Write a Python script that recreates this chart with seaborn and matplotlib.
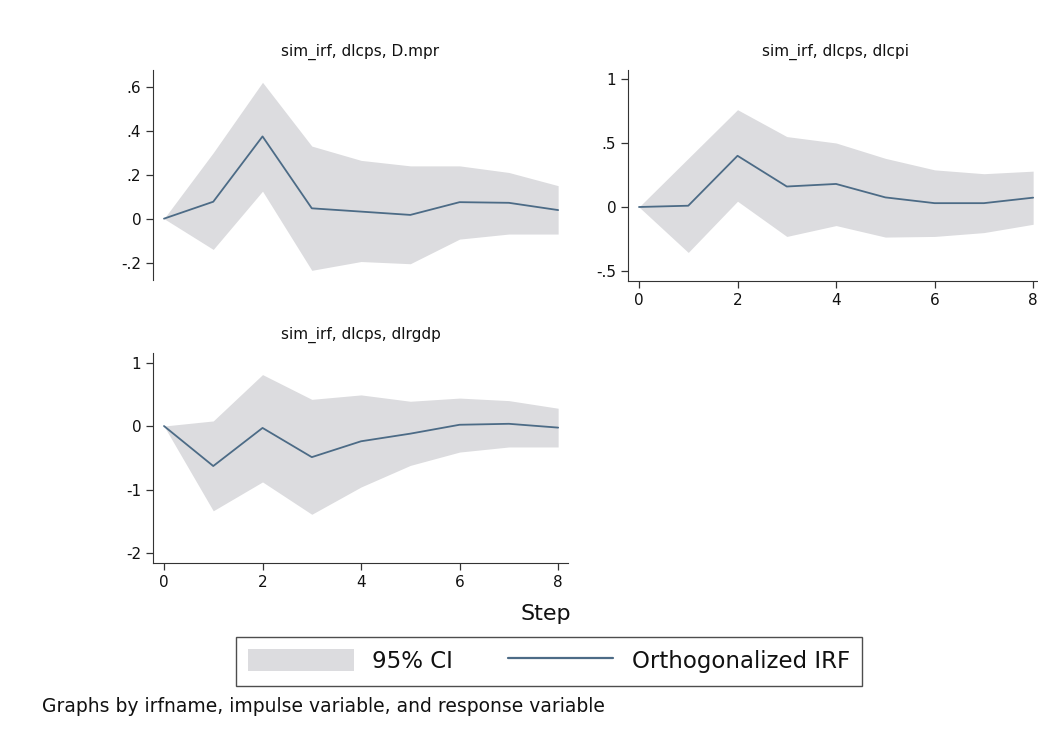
# IRF-Diagramm nachbauen (drei Panels, gemeinsame Legende)
import numpy as np
import pandas as pd
import seaborn as sns
import matplotlib.pyplot as plt
from matplotlib.patches import Patch
from matplotlib.lines import Line2D

# Daten
steps = [0, 1, 2, 3, 4, 5, 6, 7, 8]

mpr_irf = [0, 0.077, 0.374, 0.047, 0.032, 0.017, 0.075, 0.072, 0.039]
mpr_lo = [0, -0.14, 0.125, -0.235, -0.195, -0.205, -0.093, -0.07, -0.07]
mpr_hi = [0, 0.30, 0.62, 0.33, 0.265, 0.24, 0.24, 0.21, 0.15]

cpi_irf = [0, 0.01, 0.40, 0.16, 0.18, 0.075, 0.03, 0.03, 0.073]
cpi_lo = [0, -0.355, 0.045, -0.23, -0.145, -0.235, -0.23, -0.20, -0.135]
cpi_hi = [0, 0.38, 0.76, 0.55, 0.50, 0.38, 0.29, 0.26, 0.28]

gdp_irf = [0, -0.63, -0.03, -0.49, -0.24, -0.12, 0.02, 0.035, -0.025]
gdp_lo = [0, -1.335, -0.88, -1.39, -0.96, -0.62, -0.41, -0.33, -0.33]
gdp_hi = [0, 0.08, 0.81, 0.42, 0.49, 0.39, 0.44, 0.40, 0.28]

titles = ["sim_irf, dlcps, D.mpr", "sim_irf, dlcps, dlcpi", "sim_irf, dlcps, dlrgdp"]
yticks = [[-0.2, 0, 0.2, 0.4, 0.6], [-0.5, 0, 0.5, 1], [-2, -1, 0, 1]]
yticklabels = [["-.2", "0", ".2", ".4", ".6"], ["-.5", "0", ".5", "1"], ["-2", "-1", "0", "1"]]
ylims = [(-0.279, 0.676), (-0.578, 1.07), (-2.157, 1.15)]

ci_farbe = "#dcdcdf"
linie_farbe = "#4c6b86"

sns.set_style("ticks")
plt.rcParams['font.family'] = ['DejaVu Sans']

fig = plt.figure(figsize=(10.38, 7.44), dpi=100)
W, H = 1038, 744
# Positionen der Panels in Pixeln (links, oben, rechts, unten)
boxen = [(153, 70, 568, 280), (628, 70, 1043, 281), (153, 353, 568, 563)]
daten = [(mpr_irf, mpr_lo, mpr_hi), (cpi_irf, cpi_lo, cpi_hi), (gdp_irf, gdp_lo, gdp_hi)]

for i, (b, (irf, lo, hi)) in enumerate(zip(boxen, daten)):
    ax = fig.add_axes([b[0] / W, 1 - b[3] / H, (b[2] - b[0]) / W, (b[3] - b[1]) / H])
    df = pd.DataFrame({"Step": steps, "irf": irf, "lo": lo, "hi": hi})
    ax.fill_between(df["Step"], df["lo"], df["hi"], color=ci_farbe, linewidth=0)
    sns.lineplot(data=df, x="Step", y="irf", ax=ax, color=linie_farbe, linewidth=1.3)
    ax.set_xlim(-0.223, 8.2)
    ax.set_ylim(*ylims[i])
    ax.set_yticks(yticks[i])
    ax.set_yticklabels(yticklabels[i])
    ax.set_xticks([0, 2, 4, 6, 8])
    ax.set_xlabel("")
    ax.set_ylabel("")
    ax.set_title(titles[i], fontsize=11, pad=10, color="#111111")
    for s in ["top", "right"]:
        ax.spines[s].set_visible(False)
    ax.spines["left"].set_color("#333333")
    ax.spines["bottom"].set_color("#333333")
    ax.tick_params(colors="#333333", labelcolor="#111111", labelsize=11, length=5, width=0.9)
    if i == 0:
        ax.spines["bottom"].set_visible(False)
        ax.tick_params(axis="x", bottom=False, labelbottom=False)

fig.text(546 / W, 1 - 614 / H, "Step", ha="center", va="center", fontsize=16, color="#111111")

griffe = [Patch(facecolor=ci_farbe, edgecolor="none"),
          Line2D([0], [0], color=linie_farbe, linewidth=1.6)]
leg = fig.legend(griffe, ["95% CI", "Orthogonalized IRF"], loc="center",
                 bbox_to_anchor=(549 / W, 1 - 661 / H), ncol=2, fontsize=16.5,
                 frameon=True, fancybox=False, handlelength=4.6, handleheight=1.1,
                 handletextpad=0.8, columnspacing=2.4, borderpad=0.55,
                 borderaxespad=0)
leg.get_frame().set_edgecolor("#222222")
leg.get_frame().set_linewidth(1.0)
for t in leg.get_texts():
    t.set_color("#111111")

fig.text(42 / W, 1 - 707 / H, "Graphs by irfname, impulse variable, and response variable",
         ha="left", va="center", fontsize=13.5, color="#111111")

fig.savefig("out.png", dpi=100)
